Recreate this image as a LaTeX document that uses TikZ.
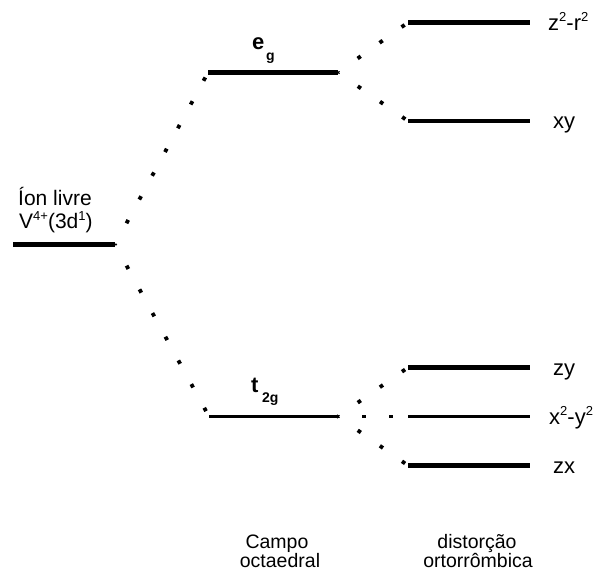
\documentclass[tikz,border=0pt]{standalone}
\usepackage{fontspec}
\setmainfont{Liberation Sans}
\newcommand\mysup[1]{\raisebox{0.42em}{\fontsize{13}{14}\selectfont #1}}
\begin{document}
\begin{tikzpicture}[x=1pt,y=-1pt,
  level/.style={line width=4.5pt},
  thinlevel/.style={line width=3pt},
  dotline/.style={line width=3.8pt, dash pattern=on 3.8pt off 23.2pt, dash phase=2.9pt},
  lbl/.style={font=\fontsize{22}{24}\selectfont, anchor=base west, inner sep=0pt},
  txt/.style={font=\fontsize{21}{22}\selectfont, anchor=base west, inner sep=0pt},
  bot/.style={font=\fontsize{19.5}{20}\selectfont, anchor=base, inner sep=0pt},
  sym/.style={font=\fontsize{22}{24}\selectfont\bfseries, anchor=base west, inner sep=0pt},
  sub/.style={font=\fontsize{14}{16}\selectfont\bfseries, anchor=base west, inner sep=0pt}
]
\useasboundingbox (0,0) rectangle (603,575);

% level end points
\coordinate (fiL) at (13,244.5);  \coordinate (fiR) at (115,244.5);
\coordinate (egL) at (208,72.5);  \coordinate (egR) at (338,72.5);
\coordinate (tL)  at (209,416.5); \coordinate (tR)  at (338,416.5);
\coordinate (aL)  at (408,22.5);  \coordinate (aR)  at (530,22.5);
\coordinate (bL)  at (408,121);   \coordinate (bR)  at (530,121);
\coordinate (cL)  at (408,367.5); \coordinate (cR)  at (530,367.5);
\coordinate (dL)  at (408,416.5); \coordinate (dR)  at (530,416.5);
\coordinate (eL)  at (408,465.5); \coordinate (eR)  at (530,465.5);

% levels
\draw[level] (fiL) -- (fiR);
\draw[level] (egL) -- (egR);
\draw[thinlevel] (tL) -- (tR);
\draw[level] (aL) -- (aR);
\draw[level] (bL) -- (bR);
\draw[level] (cL) -- (cR);
\draw[thinlevel] (dL) -- (dR);
\draw[level] (eL) -- (eR);

% dotted connectors
\draw[dotline] (fiR) -- (egL);
\draw[dotline] (fiR) -- (tL);
\draw[dotline] (egR) -- (aL);
\draw[dotline] (egR) -- (bL);
\draw[dotline] (tR) -- (cL);
\draw[dotline] (tR) -- (dL);
\draw[dotline] (tR) -- (eL);

% labels
\node[txt] (ion1) at (18,206) {Íon livre};
\node[txt] (ion2) at (19,229) {V\mysup{4+}(3d\mysup{1})};

\node[sym] (e) at (252,50) {e};
\node[sub] (g) at (266,61) {g};
\node[sym] (t) at (251,392) {t};
\node[sub] (tg) at (262,402) {2g};

\node[lbl] (la) at (548,30.5) {z\mysup{2}-r\mysup{2}};
\node[lbl] (lb) at (553,129) {xy};
\node[lbl] (lc) at (553,375.5) {zy};
\node[lbl] (ld) at (549,424.5) {x\mysup{2}-y\mysup{2}};
\node[lbl] (le) at (553,473.5) {zx};

\node[bot] (c1) at (277,548) {Campo};
\node[bot] (c2) at (280,567) {octaedral};
\node[bot] (d1) at (477,548) {distorção};
\node[bot] (d2) at (478,567) {ortorrômbica};
\end{tikzpicture}
\end{document}
